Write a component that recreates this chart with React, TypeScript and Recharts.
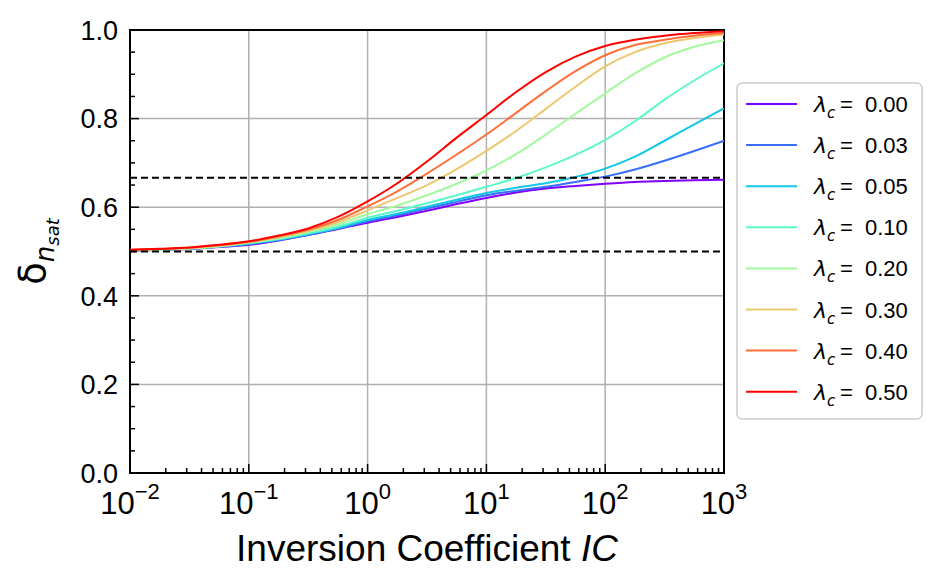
import React from 'react';
import { LineChart, Line, XAxis, YAxis, CartesianGrid, ReferenceLine, ReferenceArea } from 'recharts';

// inversion coefficient, quarter-decade steps from 1e-2 to 1e3
const icValues = [
  0.01, 0.0178, 0.0316, 0.0562, 0.1, 0.178, 0.316, 0.562, 1, 1.78, 3.16,
  5.62, 10, 17.8, 31.6, 56.2, 100, 178, 316, 562, 1000,
];

const lam000 = [0.5025, 0.5035, 0.5055, 0.51, 0.515, 0.525, 0.537, 0.551, 0.565, 0.578, 0.592, 0.607, 0.621, 0.633, 0.642, 0.648, 0.653, 0.657, 0.659, 0.661, 0.662];
const lam003 = [0.5025, 0.5035, 0.506, 0.5105, 0.5165, 0.526, 0.538, 0.552, 0.568, 0.582, 0.597, 0.612, 0.627, 0.637, 0.646, 0.657, 0.669, 0.685, 0.705, 0.727, 0.75];
const lam005 = [0.5025, 0.504, 0.5065, 0.511, 0.518, 0.527, 0.539, 0.553, 0.571, 0.585, 0.601, 0.617, 0.632, 0.644, 0.654, 0.668, 0.687, 0.714, 0.75, 0.787, 0.823];
const lam010 = [0.503, 0.504, 0.507, 0.5115, 0.519, 0.528, 0.541, 0.556, 0.576, 0.592, 0.609, 0.627, 0.646, 0.666, 0.69, 0.718, 0.752, 0.794, 0.843, 0.886, 0.925];
const lam020 = [0.503, 0.5045, 0.507, 0.512, 0.52, 0.53, 0.544, 0.561, 0.584, 0.604, 0.627, 0.653, 0.683, 0.72, 0.764, 0.811, 0.857, 0.902, 0.938, 0.962, 0.977];
const lam030 = [0.503, 0.505, 0.508, 0.513, 0.521, 0.532, 0.546, 0.566, 0.593, 0.621, 0.65, 0.686, 0.727, 0.772, 0.822, 0.872, 0.918, 0.95, 0.97, 0.982, 0.99];
const lam040 = [0.5035, 0.5055, 0.5085, 0.514, 0.522, 0.534, 0.549, 0.571, 0.602, 0.636, 0.676, 0.719, 0.764, 0.813, 0.862, 0.907, 0.943, 0.966, 0.978, 0.987, 0.993];
const lam050 = [0.504, 0.506, 0.509, 0.515, 0.523, 0.536, 0.552, 0.578, 0.613, 0.654, 0.703, 0.757, 0.808, 0.86, 0.905, 0.94, 0.964, 0.978, 0.987, 0.993, 0.997];

const seriesValues = [lam000, lam003, lam005, lam010, lam020, lam030, lam040, lam050];
const lambdaLabels = ['0.00', '0.03', '0.05', '0.10', '0.20', '0.30', '0.40', '0.50'];
const colors = ['#8000ff', '#376ff9', '#12c8e6', '#5bf9c7', '#a4f99f', '#edc76f', '#ff6f39', '#ff0000'];

const boundLow = 0.5;
const boundHigh = 2 / 3;

const xMajorTicks = [0.01, 0.1, 1, 10, 100, 1000];
const xMinorTicks: number[] = [];
[0.01, 0.1, 1, 10, 100].forEach(d => {
  [2, 3, 4, 5, 6, 7, 8, 9].forEach(m => xMinorTicks.push(+(d * m).toPrecision(3)));
});
const yMajorTicks = [0, 0.2, 0.4, 0.6, 0.8, 1];
const yMinorTicks = [0.05, 0.1, 0.15, 0.25, 0.3, 0.35, 0.45, 0.5, 0.55, 0.65, 0.7, 0.75, 0.85, 0.9, 0.95];

const xAllTicks = [...xMajorTicks, ...xMinorTicks].sort((a, b) => a - b);
const yAllTicks = [...yMajorTicks, ...yMinorTicks].sort((a, b) => a - b);

const data = icValues.map((ic, i) => {
  const row: Record<string, number> = { ic };
  seriesValues.forEach((s, k) => { row['s' + k] = s[i]; });
  return row;
});

const FONT = '"Liberation Sans", Arial, sans-serif';

// ticks point inwards (direction='in'); only major ticks get a label
const XTick = (props: any) => {
  const { x, y, payload } = props;
  const major = xMajorTicks.includes(payload.value);
  if (!major) {
    return <line x1={x} x2={x} y1={y} y2={y - 5} stroke="#000" strokeWidth={1.5} />;
  }
  const exp = Math.round(Math.log10(payload.value));
  const sup = exp < 0 ? '\u2212' + Math.abs(exp) : String(exp);
  return (
    <g>
      <line x1={x} x2={x} y1={y} y2={y - 9} stroke="#000" strokeWidth={1.5} />
      <text x={x} y={y + 41} textAnchor="middle" fontSize={31} fill="#000" fontFamily={FONT}>
        10<tspan dy={-15} fontSize={22}>{sup}</tspan>
      </text>
    </g>
  );
};

const YTick = (props: any) => {
  const { x, y, payload } = props;
  const major = yMajorTicks.includes(payload.value);
  if (!major) {
    return <line x1={x} x2={x + 5} y1={y} y2={y} stroke="#000" strokeWidth={1.5} />;
  }
  return (
    <g>
      <line x1={x} x2={x + 9} y1={y} y2={y} stroke="#000" strokeWidth={1.5} />
      <text x={x - 12} y={y} dy="0.36em" textAnchor="end" fontSize={27} fill="#000" fontFamily={FONT}>
        {payload.value.toFixed(1)}
      </text>
    </g>
  );
};

const XLabel = (props: any) => {
  const vb = props.viewBox;
  return (
    <text x={vb.x + vb.width / 2} y={vb.y + 88} textAnchor="middle" fontSize={37} fill="#000" fontFamily={FONT}>
      Inversion Coefficient <tspan fontStyle="italic">IC</tspan>
    </text>
  );
};

const YLabel = (props: any) => {
  const vb = props.viewBox;
  const cy = vb.y + vb.height / 2;
  return (
    <text transform="rotate(-90)" x={-cy} y={37} textAnchor="middle" fontSize={37} fill="#000" fontFamily='"DejaVu Sans", sans-serif'>
      δ<tspan dy={9} fontSize={26} fontStyle="italic">n</tspan>
      <tspan dy={5} fontSize={18} fontStyle="italic">sat</tspan>
    </text>
  );
};

const LegendBox = () => (
  <svg width={187} height={338} style={{ position: 'absolute', left: 728, top: 74 }}>
    <rect x={1} y={1} width={185} height={336} rx={5} fill="#fff" stroke="#cccccc" strokeWidth={1.5} />
    {lambdaLabels.map((lab, i) => {
      const cy = 22 + 41.1 * i;
      return (
        <g key={lab}>
          <line x1={10} x2={61} y1={cy} y2={cy} stroke={colors[i]} strokeWidth={2} />
          <text x={78} y={cy + 8} fontSize={22} fontStyle="italic" fill="#000" fontFamily='"DejaVu Sans", sans-serif'>
            λ<tspan dy={6} fontSize={15}>c</tspan>
          </text>
          <text x={104} y={cy + 8} fontSize={22} fill="#000" fontFamily={FONT}>=</text>
          <text x={129} y={cy + 8} fontSize={22} fill="#000" fontFamily={FONT}>{lab}</text>
        </g>
      );
    })}
  </svg>
);

export default function App() {
  return (
    <div style={{ position: 'relative', width: 925, height: 570, fontFamily: FONT }}>
      <LineChart width={925} height={570} data={data} margin={{ top: 22, right: 209, bottom: 0, left: 0 }}>
        <XAxis
          dataKey="ic"
          type="number"
          scale="log"
          domain={[0.01, 1000]}
          ticks={xAllTicks}
          interval={0}
          height={105}
          tick={<XTick />}
          tickSize={0}
          tickMargin={0}
          tickLine={false}
          axisLine={false}
          allowDataOverflow
          label={{ content: (p: any) => <XLabel {...p} /> }}
        />
        <YAxis
          type="number"
          domain={[0, 1]}
          ticks={yAllTicks}
          interval={0}
          width={122}
          tick={<YTick />}
          tickSize={0}
          tickMargin={0}
          tickLine={false}
          axisLine={false}
          allowDataOverflow
          label={{ content: (p: any) => <YLabel {...p} /> }}
        />
        <CartesianGrid
          stroke="#b0b0b0"
          strokeWidth={1.5}
          verticalValues={xMajorTicks}
          horizontalValues={yMajorTicks}
        />
        {seriesValues.map((_, k) => (
          <Line
            key={k}
            type="monotone"
            dataKey={'s' + k}
            stroke={colors[k]}
            strokeWidth={2}
            dot={false}
            isAnimationActive={false}
          />
        ))}
        <ReferenceLine y={boundHigh} stroke="#000" strokeWidth={2} strokeDasharray="7 4" />
        <ReferenceLine y={boundLow} stroke="#000" strokeWidth={2} strokeDasharray="7 4" />
        <ReferenceArea x1={0.01} x2={1000} y1={0} y2={1} fill="none" stroke="#000" strokeWidth={2} ifOverflow="visible" />
      </LineChart>
      <LegendBox />
    </div>
  );
}
